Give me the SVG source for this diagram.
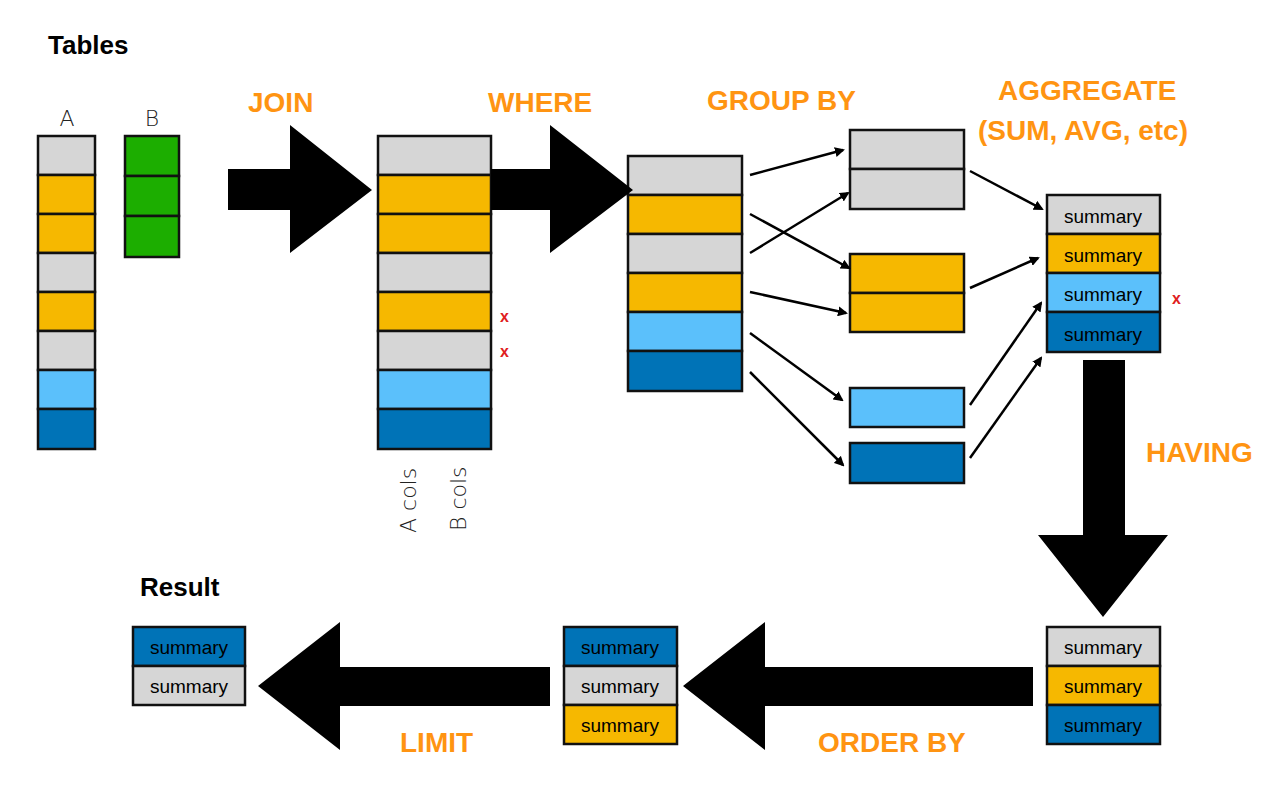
<svg xmlns="http://www.w3.org/2000/svg" width="1282" height="787" viewBox="0 0 1282 787">
<defs>
<style>
.g{fill:#d6d6d6}.y{fill:#f6b800}.l{fill:#5bc0fb}.d{fill:#0073b7}.gr{fill:#1cae00}
rect{stroke:#111;stroke-width:2.5}
.op{font-family:"Liberation Sans",Arial,sans-serif;font-weight:bold;font-size:28px;fill:#ff9412}
.t{font-family:"Liberation Sans",Arial,sans-serif;font-weight:bold;font-size:26px;fill:#000}
.s{font-family:"Liberation Sans",Arial,sans-serif;font-size:19px;fill:#000;text-anchor:middle}
.c{font-family:"DejaVu Sans",sans-serif;font-size:22px;fill:#222;font-weight:200}
.x{font-family:"Liberation Sans",Arial,sans-serif;font-weight:bold;font-size:16px;fill:#e02020}
.ar{stroke:#000;stroke-width:2.5;fill:none;marker-end:url(#ah)}
</style>
<marker id="ah" markerWidth="10" markerHeight="10" refX="8" refY="5" orient="auto" markerUnits="userSpaceOnUse" viewBox="0 0 10 10"><path d="M0,0 L10,5 L0,10 z" fill="#000"/></marker>
</defs>
<text class="t" x="48" y="54">Tables</text>
<text class="t" x="140" y="596">Result</text>
<text class="op" x="248" y="112">JOIN</text>
<text class="op" x="488" y="112">WHERE</text>
<text class="op" x="707" y="110">GROUP BY</text>
<text class="op" x="998" y="100">AGGREGATE</text>
<text class="op" x="978" y="140">(SUM, AVG, etc)</text>
<text class="op" x="1146" y="462">HAVING</text>
<text class="op" x="818" y="752">ORDER BY</text>
<text class="op" x="400" y="752">LIMIT</text>
<g id="tableA">
<text class="c" x="67" y="126" text-anchor="middle">A</text>
<rect class="g" x="38" y="136" width="57" height="39"/><rect class="y" x="38" y="175" width="57" height="39"/><rect class="y" x="38" y="214" width="57" height="39"/><rect class="g" x="38" y="253" width="57" height="39"/><rect class="y" x="38" y="292" width="57" height="39"/><rect class="g" x="38" y="331" width="57" height="39"/><rect class="l" x="38" y="370" width="57" height="39"/><rect class="d" x="38" y="409" width="57" height="40"/>
</g>
<g id="tableB">
<text class="c" x="152" y="126" text-anchor="middle">B</text>
<rect class="gr" x="125" y="136" width="54" height="40"/><rect class="gr" x="125" y="176" width="54" height="40"/><rect class="gr" x="125" y="216" width="54" height="41"/>
</g>
<g id="joined">
<rect class="g" x="378" y="136" width="113" height="39"/><rect class="y" x="378" y="175" width="113" height="39"/><rect class="y" x="378" y="214" width="113" height="39"/><rect class="g" x="378" y="253" width="113" height="39"/><rect class="y" x="378" y="292" width="113" height="39"/><rect class="g" x="378" y="331" width="113" height="39"/><rect class="l" x="378" y="370" width="113" height="39"/><rect class="d" x="378" y="409" width="113" height="40"/>
<text class="x" x="500" y="322">x</text><text class="x" x="500" y="357">x</text>
<text class="c" transform="translate(416,533) rotate(-90)">A cols</text>
<text class="c" transform="translate(466,531) rotate(-90)">B cols</text>
</g>
<g id="filtered">
<rect class="g" x="628" y="156" width="114" height="39"/><rect class="y" x="628" y="195" width="114" height="39"/><rect class="g" x="628" y="234" width="114" height="39"/><rect class="y" x="628" y="273" width="114" height="39"/><rect class="l" x="628" y="312" width="114" height="39"/><rect class="d" x="628" y="351" width="114" height="40"/>
</g>
<g id="groups">
<rect class="g" x="850" y="130" width="114" height="39"/><rect class="g" x="850" y="169" width="114" height="40"/>
<rect class="y" x="850" y="254" width="114" height="39"/><rect class="y" x="850" y="293" width="114" height="39"/>
<rect class="l" x="850" y="388" width="114" height="39"/>
<rect class="d" x="850" y="443" width="114" height="40"/>
</g>
<g id="aggregate">
<rect class="g" x="1047" y="195" width="113" height="39"/><rect class="y" x="1047" y="234" width="113" height="39"/><rect class="l" x="1047" y="273" width="113" height="39"/><rect class="d" x="1047" y="312" width="113" height="40"/>
<text class="s" x="1103" y="223">summary</text><text class="s" x="1103" y="262">summary</text><text class="s" x="1103" y="301">summary</text><text class="s" x="1103" y="341">summary</text>
<text class="x" x="1172" y="304">x</text>
</g>
<g id="having">
<rect class="g" x="1047" y="627" width="113" height="39"/><rect class="y" x="1047" y="666" width="113" height="39"/><rect class="d" x="1047" y="705" width="113" height="39"/>
<text class="s" x="1103" y="654">summary</text><text class="s" x="1103" y="693">summary</text><text class="s" x="1103" y="732">summary</text>
</g>
<g id="ordered">
<rect class="d" x="564" y="627" width="113" height="39"/><rect class="g" x="564" y="666" width="113" height="39"/><rect class="y" x="564" y="705" width="113" height="39"/>
<text class="s" x="620" y="654">summary</text><text class="s" x="620" y="693">summary</text><text class="s" x="620" y="732">summary</text>
</g>
<g id="result">
<rect class="d" x="133" y="627" width="112" height="39"/><rect class="g" x="133" y="666" width="112" height="39"/>
<text class="s" x="189" y="654">summary</text><text class="s" x="189" y="693">summary</text>
</g>
<g id="connectors">
<path d="M228,169H290V125L372,190L290,253V210H228Z" fill="#000"/>
<path d="M491,169H550V125L633,190L550,253V210H491Z" fill="#000"/>
<path d="M1083,360H1125V535H1168L1103,617L1038,535H1083Z" fill="#000"/>
<path d="M1033,667H765V622L683,686L765,750V706H1033Z" fill="#000"/>
<path d="M550,667H340V622L258,686L340,750V706H550Z" fill="#000"/>
<path class="ar" d="M750,175L843,150"/>
<path class="ar" d="M750,253L848,193"/>
<path class="ar" d="M750,214L849,268"/>
<path class="ar" d="M750,292L846,313"/>
<path class="ar" d="M750,333L842,400"/>
<path class="ar" d="M750,372L843,465"/>
<path class="ar" d="M970,171L1042,209"/>
<path class="ar" d="M970,288L1038,258"/>
<path class="ar" d="M970,405L1041,303"/>
<path class="ar" d="M970,458L1041,358"/>
</g>
</svg>
